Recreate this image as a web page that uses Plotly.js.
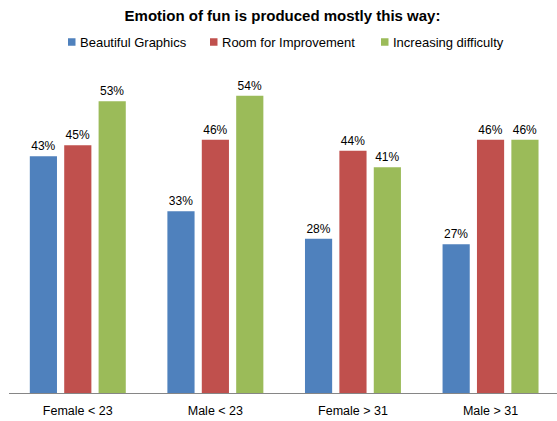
<!DOCTYPE html>
<html>
<head>
<meta charset="utf-8">
<script src="https://cdn.plot.ly/plotly-3.0.1.min.js"></script>
<style>
  html, body { margin: 0; padding: 0; background: #ffffff; }
  #chart { width: 557px; height: 421px; }
</style>
</head>
<body>
<div id="chart"></div>
<script>
// Survey groups along the x axis
const categories = ['Female < 23', 'Male < 23', 'Female > 31', 'Male > 31'];

// Share of respondents (%) per answer
const seriesNames = ['Beautiful Graphics', 'Room for Improvement', 'Increasing difficulty'];
const beautifulGraphics = [43, 33, 28, 27];
const roomForImprovement = [45, 46, 44, 46];
const increasingDifficulty = [53, 54, 41, 46];

const seriesValues = [beautifulGraphics, roomForImprovement, increasingDifficulty];
const seriesColors = ['#4F81BD', '#C0504D', '#9BBB59'];

const FONT = 'Liberation Sans, Arial, sans-serif';
const W = 557, H = 421;
const M = { l: 9, r: 0, t: 62, b: 28 };

const traces = seriesValues.map((vals, i) => ({
  type: 'bar',
  name: seriesNames[i],
  x: categories,
  y: vals,
  text: vals.map(v => v + '%'),
  textposition: 'outside',
  cliponaxis: false,
  textfont: { family: FONT, size: 12, color: '#000000' },
  marker: { color: seriesColors[i], line: { width: 0 } },
  hoverinfo: 'skip'
}));

// Hand-built legend: small swatch followed by the series name
const px2x = px => (px - M.l) / (W - M.l - M.r);
const py2y = py => (H - M.b - py) / (H - M.t - M.b);
const legendSwatchLeft = [68, 210, 381];
const legendRowY = 42;
const swatch = 7.5;

const shapes = seriesNames.map((n, i) => ({
  type: 'rect', xref: 'paper', yref: 'paper',
  x0: px2x(legendSwatchLeft[i]), x1: px2x(legendSwatchLeft[i] + swatch),
  y0: py2y(legendRowY - swatch / 2), y1: py2y(legendRowY + swatch / 2),
  fillcolor: seriesColors[i], line: { width: 0 }
}));

const annotations = seriesNames.map((n, i) => ({
  text: n, showarrow: false, xref: 'paper', yref: 'paper',
  x: px2x(legendSwatchLeft[i] + swatch + 2), y: py2y(legendRowY),
  xanchor: 'left', yanchor: 'middle',
  font: { family: FONT, size: 13, color: '#000000' }
}));

const layout = {
  width: W, height: H,
  margin: M,
  paper_bgcolor: '#ffffff',
  plot_bgcolor: '#ffffff',
  showlegend: false,
  barmode: 'group',
  bargap: 0.25,
  bargroupgap: 0.21,
  title: {
    text: '<b>Emotion of fun is produced mostly this way:</b>',
    font: { family: FONT, size: 15, color: '#000000' },
    x: 282.5 / W, xanchor: 'center', xref: 'container',
    y: 1 - 16 / H, yanchor: 'middle', yref: 'container'
  },
  xaxis: {
    type: 'category',
    range: [-0.5, 3.483],
    showline: true, linecolor: '#868686', linewidth: 1,
    showgrid: false, zeroline: false, ticks: '',
    ticklabelstandoff: 6,
    tickfont: { family: FONT, size: 12.5, color: '#000000' },
    fixedrange: true
  },
  yaxis: {
    range: [0, 60.13],
    visible: false,
    showgrid: false, zeroline: false,
    fixedrange: true
  },
  shapes: shapes,
  annotations: annotations
};

Plotly.newPlot('chart', traces, layout, { displayModeBar: false, staticPlot: true });
</script>
</body>
</html>
